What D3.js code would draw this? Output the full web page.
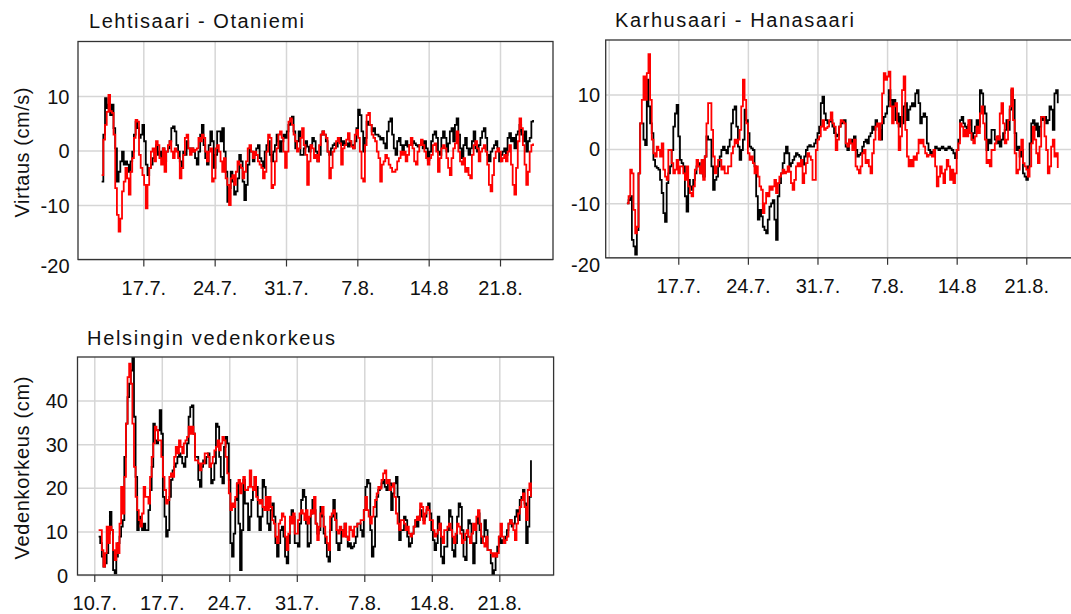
<!DOCTYPE html>
<html><head><meta charset="utf-8">
<script src="https://cdn.jsdelivr.net/npm/d3@7"></script>
<style>
html,body{margin:0;padding:0;background:#fff;}
svg{display:block;font-family:"Liberation Sans",Arial,Helvetica,sans-serif;}
</style></head><body>
<svg id="chart" width="1071" height="614"></svg>
<script>
// ---------- DATA (time in days after 10.7. 00:00, sampled every 4 h) ----------
const sampleStepDays = 1 / 6;

const lehtiStart = 2.91;
const lehtiBlack = [
-5.7,2.9,9.6,7.8,8.4,6.5,8.4,4.1,0.4,-5.7,
-3.9,-2.0,-0.2,-2.6,-2.0,-2.6,-3.9,-2.0,-0.2,2.9,
5.3,4.1,2.3,2.9,4.7,1.7,-2.6,-4.5,-3.2,-2.6,
-1.4,-0.2,1.0,-0.8,-0.2,-1.4,0.4,-2.0,-0.2,0.4,
1.7,4.1,4.4,3.5,1.0,-0.2,-2.0,-3.2,-0.2,-0.8,
1.7,0.4,-0.2,0.4,-0.2,-1.4,-2.6,-0.2,2.9,4.7,
1.0,-1.4,-2.6,1.0,3.5,1.7,-3.2,-0.8,3.5,3.5,
1.7,4.1,-0.2,-3.9,-9.4,-6.9,-3.9,-5.7,-8.1,-7.5,
-5.1,-0.8,-2.0,-5.7,-9.1,-6.3,-2.6,0.4,-0.2,-2.0,
-0.8,0.4,1.0,-1.4,-2.0,-3.2,-0.2,1.0,1.7,-0.8,
-2.0,-0.2,1.0,2.9,1.7,-0.2,1.7,2.9,2.3,3.5,
4.7,5.9,6.2,3.5,0.4,1.7,3.5,-0.8,
-0.8,0.4,1.7,0.7,-0.2,1.0,2.3,1.7,-0.2,-2.0,
-0.8,2.9,3.5,2.9,1.7,-0.2,-0.8,0.4,1.0,1.3,
0.7,1.7,2.3,1.0,1.7,1.0,1.3,0.7,1.7,1.0,
0.4,1.7,4.1,7.5,6.5,3.5,-0.2,2.3,5.3,4.7,
4.7,3.5,4.1,2.9,2.9,2.6,2.0,2.3,1.3,0.4,
3.5,5.3,5.9,2.9,0.4,-0.8,1.7,2.3,1.0,-0.2,
1.0,1.7,0.7,1.0,1.0,1.7,1.3,1.0,0.7,
1.0,1.7,0.4,1.7,0.4,-1.7,-0.2,1.7,2.9,3.5,
2.3,-0.2,-0.8,2.3,3.5,2.3,-0.2,1.3,3.5,4.1,
1.7,4.7,5.9,2.9,0.4,-1.4,1.0,2.3,0.4,-0.8,
0.4,1.7,3.5,0.4,-0.2,1.0,2.3,3.5,4.1,
2.3,-0.8,-2.0,-0.2,0.4,1.0,1.7,0.4,-2.0,-0.8,
-0.2,0.4,
-0.8,2.3,3.2,1.7,2.3,0.4,2.9,3.5,4.7,2.9,1.7,3.5,-0.2,1.7,2.3,5.3,5.6
];
const lehtiRed = [
-4.5,2.0,4.7,7.1,10.2,7.2,6.9,2.9,-6.9,-11.8,
-14.9,-12.5,-7.5,-5.7,-3.2,-5.1,-8.1,-3.9,-1.4,2.3,
5.6,5.3,-0.8,-3.2,-4.5,-6.3,-10.6,-6.3,-3.2,-0.2,
0.4,-2.0,1.7,1.0,-1.4,-2.6,0.4,-3.9,-0.2,1.0,
1.7,-0.2,-1.4,0.4,-0.2,-1.4,-5.1,-3.2,-0.8,2.3,
2.9,0.4,-0.8,0.4,-0.2,0.1,0.4,2.3,1.7,2.9,
2.3,-0.2,-2.0,-0.2,0.4,-5.7,-5.1,0.4,1.0,-0.2,
-2.0,-3.9,-1.4,-5.1,-6.3,-10.0,-5.1,-4.5,-6.3,-3.9,
-2.0,-2.6,-3.2,-5.1,-3.9,-2.0,0.4,1.0,-0.2,-1.4,
-0.2,-0.8,-2.0,-2.6,-3.2,-5.1,-3.9,-0.2,2.9,2.3,
-6.9,-6.3,-2.0,0.4,2.9,3.5,2.3,-0.2,-3.2,-0.2,
5.3,5.9,4.7,2.9,1.7,-0.2,0.4,2.3,
4.1,1.0,-0.8,-6.3,-2.0,1.0,0.4,-1.4,-0.8,-2.0,
1.0,2.9,3.5,2.9,2.3,-0.2,-5.1,-3.2,-0.2,0.4,
1.7,2.3,1.3,-2.6,0.4,1.0,2.0,3.2,1.7,0.7,
0.4,2.9,3.8,2.3,-0.2,-5.1,-5.7,1.0,6.5,6.9,
4.7,2.9,2.3,1.7,-0.2,-1.4,-5.7,-2.6,-2.0,-0.8,
-1.4,-2.6,-3.2,-3.9,-3.9,-3.5,-2.0,-1.4,-0.2,-0.8,
-0.2,-2.0,-0.8,1.0,2.3,0.4,-2.0,-2.6,-0.2,
1.0,2.0,1.0,-0.2,-1.4,-2.6,-1.4,-0.8,1.0,1.3,
-0.2,-3.9,-1.4,0.4,1.0,0.4,-1.4,-3.2,-4.5,-1.4,
0.4,1.3,3.5,-0.2,-2.0,-2.6,-1.4,-3.9,-3.2,-4.5,
-5.1,-0.8,1.0,1.7,0.4,-2.0,-0.2,0.4,1.0,
-0.2,-2.6,-6.3,-7.5,-4.5,-1.4,-0.2,0.4,-0.2,-2.0,
-1.4,-0.8,
-2.0,-0.2,1.0,-2.6,-6.3,-8.1,-3.2,1.7,5.9,4.1,1.0,-2.6,-6.3,-3.9,-0.2,1.0,1.3
];

const karhuStart = 1.833;
const karhuBlack = [
-10.0,-9.4,-8.7,-16.7,-17.9,-19.4,-14.9,-4.5,4.7,4.7,
1.7,0.7,12.7,7.8,4.7,2.9,-2.0,-3.2,-3.5,-3.8,
-5.7,-8.1,-11.8,-13.4,-6.3,-4.5,-3.2,-0.2,4.1,6.5,
8.1,2.3,-2.0,-2.6,-3.2,-8.7,-11.5,-5.7,-6.9,-7.5,
-5.7,-4.5,-3.2,-2.6,-3.9,-4.5,-5.1,-1.4,2.3,1.7,
1.7,-3.2,-7.5,-5.7,-5.1,-3.2,-1.4,-0.2,0.4,-0.2,
-0.8,0.4,1.7,4.7,7.2,7.8,4.1,0.4,-2.0,-0.2,
1.7,7.2,5.3,2.9,0.4,0.1,-0.2,-3.2,-8.7,-13.0,
-11.2,-12.4,-14.3,-14.9,-15.5,-13.0,-10.6,-10.0,-9.4,-13.0,
-16.7,-8.7,-6.3,-4.5,-2.6,-0.8,0.4,-0.8,-3.2,-2.6,
-2.0,-1.4,-0.8,-1.1,-1.4,-2.0,-2.9,-1.4,-0.2,0.4,
0.7,0.4,0.4,1.0,1.7,2.9,4.1,8.4,9.6,6.5,
5.3,4.7,5.0,5.3,4.1,2.9,2.3,2.6,4.1,4.7,
5.0,5.3,
0.4,-0.2,1.7,1.0,1.7,2.3,-0.2,-1.4,-1.1,-0.8,
0.4,1.3,1.7,1.0,2.3,2.9,4.1,3.5,5.3,4.4,
3.5,1.7,4.7,5.9,6.5,7.8,10.8,9.0,7.8,9.0,
5.3,6.5,4.1,5.9,4.7,7.8,8.4,5.3,7.2,7.8,
8.4,7.8,10.2,10.8,8.4,4.7,5.9,6.5,5.9,1.0,
-0.2,-0.8,-0.5,-0.8,0.4,0.1,-0.2,0.1,0.4,0.1,
-0.2,0.1,0.4,0.1,-0.2,-0.8,-1.7,-0.2,1.7,5.3,
5.9,4.7,4.1,3.5,4.4,5.3,1.7,2.9,4.1,5.3,
4.1,10.8,10.2,7.8,6.5,-0.2,1.7,1.0,3.5,3.5,
1.7,1.0,2.3,0.4,1.7,2.9,3.5,5.3,3.5,7.2,
10.8,9.0,2.9,-0.2,0.4,-1.4,-0.2,-4.5,-5.1,-5.7,
-3.2,1.0,4.7,5.3,3.5,4.7,2.3,4.1,5.9,5.3,
5.9,4.7,5.3,7.8,7.2,3.5,10.2,10.8,8.4
];
const karhuRed = [
-10.0,-8.7,-3.8,-4.5,-11.2,-15.5,-14.3,-4.5,4.7,9.0,
13.3,9.0,13.9,17.4,9.0,1.7,-0.8,-1.4,0.4,-0.2,
-1.4,1.0,-3.8,-5.1,-5.7,-0.2,-0.2,-2.6,-4.5,-3.8,
-2.0,-4.5,-3.2,-3.2,-4.5,-5.7,-3.2,-6.9,-8.1,-8.7,
-6.9,-3.8,-2.0,-3.2,-4.5,-2.0,-5.7,-1.4,4.7,8.4,
8.4,3.5,-1.4,-4.5,-3.2,-2.0,-2.0,-3.8,-3.2,-4.5,
-4.5,-3.2,-3.2,-0.8,0.4,1.7,1.0,1.7,3.5,7.8,
12.7,9.0,4.7,-0.8,-2.0,-1.4,-2.6,-4.5,-3.2,-5.1,
-6.9,-7.5,-11.8,-10.0,-8.1,-8.7,-6.9,-7.5,-6.9,-5.7,
-8.1,-6.3,-5.1,-4.5,-3.8,-4.5,-4.2,-3.2,-4.2,-6.3,
-7.5,-5.7,-3.2,-2.6,-3.2,-2.0,-6.3,-4.5,-2.6,-0.8,
-1.4,-2.0,-5.7,-5.7,-0.2,1.7,2.3,4.1,5.3,3.5,
3.8,4.1,5.3,6.7,4.7,4.1,-0.2,1.7,4.1,5.3,
5.0,4.7,
1.0,0.4,1.7,1.0,-0.2,1.7,-3.2,-3.8,-4.5,-3.2,
-0.8,-0.2,-2.6,-2.0,-3.2,-4.5,-0.8,1.7,4.1,4.7,
1.7,4.7,10.2,13.9,12.7,13.3,14.2,7.8,4.7,7.8,
8.4,4.7,-0.2,2.3,10.8,13.3,3.5,-1.4,-3.2,-2.0,
-3.2,-1.4,-2.0,-0.8,1.7,1.0,1.7,0.4,-0.8,-1.4,
-1.1,-1.1,-1.4,-0.2,-3.2,-6.9,-5.1,-3.2,-4.5,-6.3,
-3.8,-2.0,-3.2,-5.7,-3.8,-6.3,-4.5,-0.2,1.0,4.7,
4.1,2.3,3.5,2.3,5.3,2.9,1.7,1.0,2.3,4.1,
2.9,6.5,7.8,4.7,1.7,-2.6,-2.0,-3.2,-0.2,-0.2,
1.0,2.3,1.7,6.5,8.4,4.7,1.0,1.7,5.3,7.8,
11.1,5.3,-0.8,-4.5,-3.8,-0.2,1.7,-2.6,-3.2,-3.8,
-5.1,-3.2,1.0,4.1,1.7,-0.8,-2.6,0.4,5.9,5.9,
2.3,-0.2,-4.5,-3.2,0.4,1.7,-1.4,-0.8,-3.5
];

const helStart = 0.45;
const helBlack = [
8.8,7.3,4.2,1.9,2.7,5.0,9.5,14.5,10.3,1.1,
0.4,4.2,7.3,8.8,11.1,12.6,27.1,34.7,40.8,43.9,
46.9,52,36.3,22.5,10.3,13.4,11.8,10.3,11.8,10.3,10.3,
14.9,19.5,24.8,34.7,30.9,30.2,33.2,37.8,32.4,17.9,
13.4,8.8,10.3,17.9,21.8,24.0,24.8,25.6,27.1,27.9,
27.1,25.6,24.8,27.1,30.2,36.3,38.5,38.9,32.4,27.1,27.1,
21.8,20.2,24.8,26.3,25.6,27.1,27.9,24.8,21.0,21.8,
25.6,34.7,34.0,27.1,22.5,21.0,29.4,31.7,30.2,21.8,
7.3,4.2,9.5,17.2,21.0,11.8,1.1,10.3,21.8,16.4,16.4,
10.3,13.4,17.2,19.5,22.5,20.2,13.4,10.3,13.4,21.8,
20.2,15.6,11.8,10.3,14.9,16.4,13.4,7.3,4.2,7.3,
10.3,11.1,8.8,4.2,2.7,7.3,12.6,14.9,13.4,7.3,7.3,
6.5,11.8,17.2,19.5,17.9,11.8,6.5,7.3,14.1,17.2,
14.9,11.8,9.5,10.3,
15.6,13.4,9.5,7.3,4.2,3.1,10.3,13.4,17.2,14.1,
7.3,5.7,7.3,10.3,9.5,11.8,8.8,6.5,7.3,6.1,
6.5,7.3,8.8,11.8,11.8,10.3,8.8,14.9,20.2,21.8,21.0,
10.3,4.2,6.5,13.4,17.9,19.5,20.2,21.0,21.8,20.2,
19.5,21.8,21.0,14.9,18.7,21.0,22.5,17.9,8.0,10.3,10.3,
13.4,12.6,8.8,6.5,7.3,9.5,11.1,12.6,11.1,13.4,
14.9,13.4,12.6,13.4,14.9,16.4,14.1,10.3,8.0,5.7,
7.3,13.4,11.8,4.2,2.7,6.5,6.5,10.3,14.9,13.4,5.7,
4.2,7.3,13.4,16.4,15.6,10.3,4.2,3.4,8.8,12.6,
11.8,7.3,2.7,7.3,11.8,14.1,10.3,7.3,8.8,12.6,
10.3,5.7,5.7,2.7,0.0,1.1,4.2,6.5,8.8,7.3,8.0,
7.3,8.8,10.3,11.8,12.6,11.1,11.8,13.4,14.9,12.6,
17.2,17.9,19.5,16.4,7.3,11.1,17.9,26.3
];
const helRed = [
10.3,10.3,5.7,1.9,5.0,11.1,7.3,11.1,10.3,5.7,
3.4,7.3,5.0,11.8,20.2,14.1,22.5,34.7,45.4,48.5,
43.9,34.7,24.8,17.9,14.9,12.6,11.1,14.1,20.2,17.9,17.9,
16.4,22.5,27.1,30.2,34.0,33.2,30.9,30.9,27.1,22.5,
19.5,16.4,17.2,22.5,23.3,22.5,27.1,29.4,27.9,30.9,
29.4,27.9,30.2,30.9,31.7,34.0,32.4,34.0,32.4,26.3,26.3,
25.6,24.0,25.6,25.6,27.9,27.9,27.1,24.8,25.6,27.1,
28.6,29.4,30.9,28.6,30.2,31.7,30.9,27.1,23.3,18.7,
14.9,16.4,15.6,17.9,21.0,21.8,18.7,21.0,22.5,19.5,19.5,
20.2,24.0,20.2,19.5,22.5,17.9,17.2,16.4,17.2,15.6,
14.9,17.9,14.9,17.9,15.6,12.6,11.8,8.8,7.3,11.8,
12.6,14.1,13.4,8.8,5.7,9.5,13.4,11.8,14.1,9.5,9.5,
12.6,14.1,14.9,14.1,12.6,14.9,11.8,13.4,14.9,14.1,
17.9,11.8,8.0,11.1,
14.1,15.6,11.1,8.8,7.3,5.7,13.4,14.1,14.9,12.6,
10.3,9.5,11.1,10.3,8.8,11.8,8.8,8.0,11.1,10.3,
8.8,11.1,11.1,11.8,11.8,12.6,12.6,14.9,17.9,14.9,13.4,
11.8,13.4,15.6,17.2,18.7,20.2,19.8,21.8,23.3,24.0,
21.0,21.8,19.5,20.2,21.0,17.9,14.1,11.8,10.3,12.6,12.6,
11.8,10.3,11.1,9.5,8.8,9.5,11.1,12.6,13.4,12.6,
16.4,15.6,11.8,14.1,15.6,14.9,12.6,12.6,10.3,8.8,
9.5,10.3,11.8,8.8,7.3,10.3,10.3,11.1,11.8,10.3,8.8,
7.3,9.5,11.8,11.1,9.5,7.3,8.0,9.5,10.3,8.8,
7.3,9.5,11.8,10.3,13.4,14.9,11.8,8.8,7.3,6.5,
8.8,5.7,5.7,5.0,4.2,5.0,4.2,5.0,8.8,11.8,8.8,
7.3,8.0,8.8,11.8,12.6,11.8,10.3,8.0,11.8,14.1,
15.6,17.2,18.7,15.6,12.6,19.5,21.0,17.9
];

const topTickDays = [7, 14, 21, 28, 35, 42];
const topTickLabels = ["17.7.", "24.7.", "31.7.", "7.8.", "14.8", "21.8."];
const bottomTickDays = [0, 7, 14, 21, 28, 35, 42];
const bottomTickLabels = ["10.7.", "17.7.", "24.7.", "31.7.", "7.8.", "14.8.", "21.8."];
const flowTicks = [-20, -10, 0, 10];
const levelTicks = [0, 10, 20, 30, 40];

// ---------- LAYOUT ----------
const panels = [
  { id: "p1", title: "Lehtisaari - Otaniemi", titleX: 89, titleY: 28, titleLen: 215,
    ytitle: "Virtaus (cm/s)", ytitleLen: 130,
    l: 78, r: 553, t: 41.5, b: 259.5, xDom: [0.59, 47.2], yDom: [-20, 20],
    yTicks: flowTicks, labelEnd: 69.5, xTicks: topTickDays, xLabels: topTickLabels,
    extraGrid: [], labelBase: 295, minShift: 6,
    start: lehtiStart, black: lehtiBlack, red: lehtiRed },
  { id: "p2", title: "Karhusaari - Hanasaari", titleX: 615, titleY: 27, titleLen: 239,
    l: 605.7, r: 1075, t: 40, b: 257.8, xDom: [-0.30, 46.9], yDom: [-20, 20],
    yTicks: flowTicks, labelEnd: 600, xTicks: topTickDays, xLabels: topTickLabels,
    extraGrid: [0], labelBase: 293, minShift: 7,
    start: karhuStart, black: karhuBlack, red: karhuRed },
  { id: "p3", title: "Helsingin vedenkorkeus", titleX: 87, titleY: 345, titleLen: 248,
    ytitle: "Vedenkorkeus (cm)", ytitleLen: 183,
    l: 77.5, r: 553.6, t: 357, b: 575, xDom: [-1.74, 47.63], yDom: [0, 50],
    yTicks: levelTicks, labelEnd: 68, xTicks: bottomTickDays, xLabels: bottomTickLabels,
    extraGrid: [], labelBase: 609.5, minShift: 0,
    start: helStart, black: helBlack, red: helRed }
];

const svg = d3.select("#chart");
const gridColor = "#d6d6d6", frameColor = "#333";

panels.forEach(p => {
  const x = d3.scaleLinear().domain(p.xDom).range([p.l, p.r]);
  const y = d3.scaleLinear().domain(p.yDom).range([p.b, p.t]);
  const g = svg.append("g");

  svg.append("clipPath").attr("id", "clip-" + p.id)
    .append("rect").attr("x", p.l).attr("y", p.t).attr("width", p.r - p.l).attr("height", p.b - p.t);

  const vgrid = g.append("g").attr("transform", `translate(0,${p.b})`)
    .call(d3.axisBottom(x).tickValues(p.xTicks.concat(p.extraGrid)).tickSize(-(p.b - p.t)).tickFormat(""));
  vgrid.select(".domain").remove();
  vgrid.selectAll("line").attr("stroke", gridColor).attr("stroke-width", 1.5);

  const hgrid = g.append("g").attr("transform", `translate(${p.l},0)`)
    .call(d3.axisLeft(y).tickValues(p.yTicks).tickSize(-(p.r - p.l)).tickFormat(""));
  hgrid.select(".domain").remove();
  hgrid.selectAll("line").attr("stroke", gridColor).attr("stroke-width", 1.5);

  const mk = arr => arr.map((v, i) => ({ t: p.start + i * sampleStepDays, v }));
  const line = d3.line().x(d => x(d.t)).y(d => y(d.v)).curve(d3.curveStepAfter);
  const lg = g.append("g").attr("clip-path", `url(#clip-${p.id})`);
  lg.append("path").datum(mk(p.black)).attr("d", line)
    .attr("fill", "none").attr("stroke", "#000").attr("stroke-width", 1.8);
  lg.append("path").datum(mk(p.red)).attr("d", line)
    .attr("fill", "none").attr("stroke", "#ff0000").attr("stroke-width", 1.8);

  g.append("rect").attr("x", p.l).attr("y", p.t).attr("width", p.r - p.l).attr("height", p.b - p.t)
    .attr("fill", "none").attr("stroke", frameColor).attr("stroke-width", 1.3);

  const xa = g.append("g").attr("transform", `translate(0,${p.b})`)
    .call(d3.axisBottom(x).tickValues(p.xTicks).tickSizeInner(7).tickSizeOuter(0)
      .tickFormat((d, i) => p.xLabels[i]));
  xa.select(".domain").remove();
  xa.selectAll("line").attr("stroke", frameColor).attr("stroke-width", 1.2);
  xa.selectAll("text").attr("y", p.labelBase - p.b).attr("dy", null)
    .attr("font-size", 20).attr("fill", "#111").attr("font-family", null);

  const ya = g.append("g").attr("transform", `translate(${p.l},0)`)
    .call(d3.axisLeft(y).tickValues(p.yTicks).tickSize(0).tickFormat(d => String(d)));
  ya.select(".domain").remove();
  ya.selectAll("text")
    .attr("x", -(p.l - p.labelEnd))
    .attr("dy", d => (d === p.yDom[0] && p.minShift ? p.minShift : 0) + 7)
    .attr("font-size", 20).attr("fill", "#111").attr("font-family", null);

  g.append("text").attr("x", p.titleX).attr("y", p.titleY).text(p.title)
    .attr("font-size", 20).attr("fill", "#111")
    .attr("textLength", p.titleLen).attr("lengthAdjust", "spacing");

  if (p.ytitle) {
    const cy = (p.t + p.b) / 2 + 2;
    g.append("text").attr("transform", `translate(28.5,${cy}) rotate(-90)`)
      .attr("text-anchor", "middle").text(p.ytitle)
      .attr("font-size", 20).attr("fill", "#111")
      .attr("textLength", p.ytitleLen).attr("lengthAdjust", "spacing");
  }
});
</script>
</body></html>
